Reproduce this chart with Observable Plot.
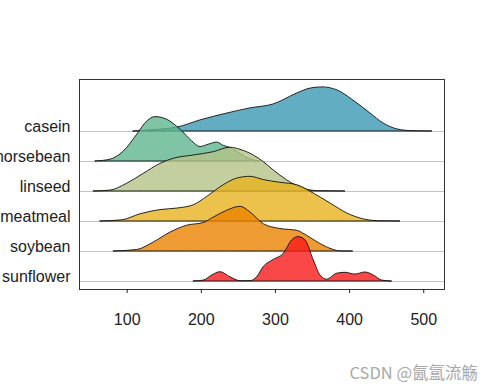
<!DOCTYPE html>
<html><head><meta charset="utf-8">
<script src="https://cdn.jsdelivr.net/npm/d3@7"></script>
<script src="https://cdn.jsdelivr.net/npm/@observablehq/plot@0.6"></script>
<style>
body{margin:0;background:#fff;}
#wrap{position:relative;width:485px;height:388px;overflow:hidden;}
#wm{position:absolute;right:7px;top:360px;font:16.5px "Noto Sans CJK SC",sans-serif;color:#a8a8a8;white-space:nowrap;}
</style></head><body>
<div id="wrap"><div id="chart"></div><div id="wm">CSDN @氤氲流觞</div></div>
<script>
const feeds = ["casein","horsebean","linseed","meatmeal","soybean","sunflower"];
const fills = ["#3B98B1","#5EB58E","#B4C387","#E8B31F","#EA8200","#F91919"];
const xTicks = [100,200,300,400,500];

const casein_x = [108.5,140,167.8,198.9,235.3,266.3,297.3,329.7,347.2,363.4,383.6,405.2,428.1,445.6,464.5,484.8,511.7];
const casein_h = [0,0.05,0.13,0.37,0.6,0.77,0.9,1.27,1.43,1.47,1.37,1.03,0.6,0.27,0.07,0.01,0];
const horsebean_x = [57.4,77.5,95.4,113.5,127,138.2,154,171.9,187.7,198.9,210,221.4,230.3,239.3,252.8,266.3,280];
const horsebean_h = [0,0.06,0.33,0.89,1.33,1.48,1.39,1.06,0.67,0.48,0.56,0.63,0.52,0.45,0.25,0.07,0];
const linseed_x = [55,77.5,100,122.4,144.9,162.8,189.8,216.8,239.3,252.8,270.7,284.2,297.7,315.8,338.2,358,394.4];
const linseed_h = [0,0.03,0.26,0.59,0.92,1.09,1.2,1.31,1.46,1.39,1.2,0.98,0.7,0.37,0.09,0.01,0];
const meatmeal_x = [64,93.3,117.9,144.9,167.4,189.8,207.9,230.3,248.3,266.3,284.2,306.7,329.3,351.7,374.2,396.7,419.1,437.2,468.6];
const meatmeal_h = [0,0.04,0.24,0.38,0.43,0.54,0.82,1.21,1.43,1.49,1.38,1.29,1.21,0.93,0.6,0.27,0.07,0.01,0];
const soybean_x = [82,113.5,135.9,158.4,180.9,203.3,216.8,234.9,252.8,266.3,284.2,306.7,329.3,342.8,360.7,378.6,387.7,404.8];
const soybean_h = [0,0.05,0.3,0.63,0.86,0.95,1.13,1.36,1.49,1.3,0.91,0.75,0.69,0.52,0.25,0.05,0,0];
const sunflower_x = [189.8,203.3,214.6,225.8,239.3,252.8,266.3,275.3,284.2,297.7,311.2,322.5,331.4,340.5,351.7,360.7,369.7,383.2,394.4,407.9,421.4,432.6,443.9,457.4];
const sunflower_h = [0,0.03,0.2,0.31,0.14,0.01,0.01,0.14,0.48,0.72,0.92,1.37,1.48,1.37,0.7,0.2,0.06,0.26,0.29,0.23,0.3,0.2,0.03,0];

const xs = [casein_x,horsebean_x,linseed_x,meatmeal_x,soybean_x,sunflower_x];
const hs = [casein_h,horsebean_h,linseed_h,meatmeal_h,soybean_h,sunflower_h];
const offsets = feeds.map((f,i)=>feeds.length-1-i);

const ridgeMarks = feeds.map((f,i)=>{
  const rows = xs[i].map((x,j)=>({feed:f, x, y1:offsets[i], y2:offsets[i]+hs[i][j]}));
  return Plot.areaY(rows,{x:"x",y1:"y1",y2:"y2",fill:fills[i],fillOpacity:0.8,stroke:"#111",strokeWidth:0.9,curve:"monotone-x"});
});

const chart = Plot.plot({
  width:485, height:388,
  marginLeft:79, marginRight:41, marginTop:79, marginBottom:99,
  style:{fontFamily:"'Liberation Sans', Arial, sans-serif", fontSize:"16px", color:"#222", background:"#fff"},
  x:{domain:[35.7,528], label:null},
  y:{domain:[-0.267,6.733], label:null},
  marks:[
    Plot.ruleY(offsets,{stroke:"#c4c4c4",strokeWidth:1}),
    ...ridgeMarks,
    Plot.frame({stroke:"#333",strokeWidth:1}),
    Plot.axisX({ticks:xTicks, tickSize:4, tickPadding:20, fontSize:16, label:null}),
    Plot.axisY({ticks:offsets, tickFormat:d=>feeds[feeds.length-1-d], tickSize:0, tickPadding:9, fontSize:16, dy:-4.5, label:null})
  ]
});
document.getElementById("chart").appendChild(chart);
</script>
</body></html>
